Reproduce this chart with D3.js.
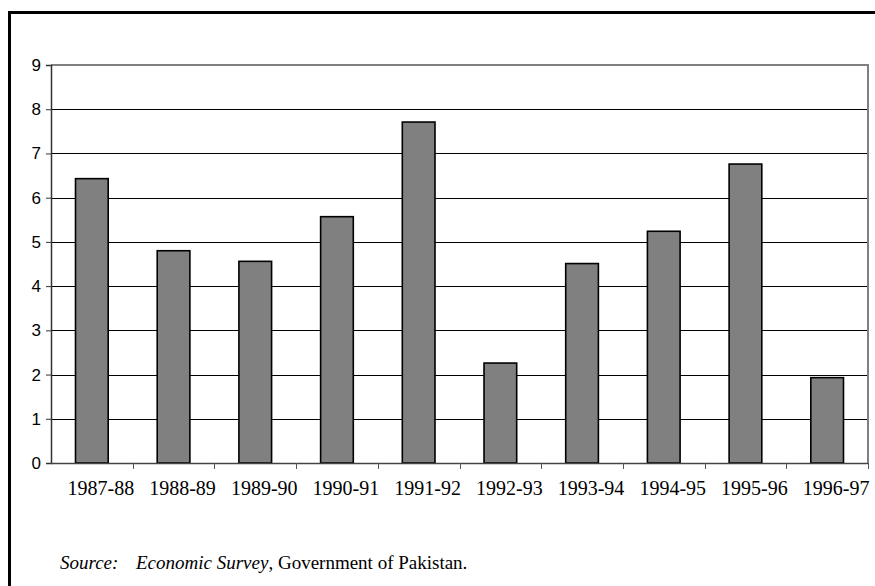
<!DOCTYPE html>
<html>
<head>
<meta charset="utf-8">
<script src="https://cdn.jsdelivr.net/npm/d3@7"></script>
<style>
  body { margin: 0; background: #fff; }
  svg { display: block; }
  .serif { font-family: "Liberation Serif", "Times New Roman", Times, serif; }
  .sans { font-family: "Liberation Sans", Arial, Helvetica, sans-serif; }
</style>
</head>
<body>
<svg id="viz"></svg>
<script>
// data
const years = ["1987-88", "1988-89", "1989-90", "1990-91", "1991-92",
               "1992-93", "1993-94", "1994-95", "1995-96", "1996-97"];
const growth = [6.43, 4.80, 4.56, 5.57, 7.71, 2.26, 4.51, 5.24, 6.76, 1.93];
const yTicks = [0, 1, 2, 3, 4, 5, 6, 7, 8, 9];

const width = 875, height = 586;
const svg = d3.select("#viz").attr("width", width).attr("height", height);

// plot area
const plotL = 51, plotR = 868, plotT = 65, plotB = 463;

const x = d3.scaleBand().domain(years).range([plotL, plotR]).paddingInner(0).paddingOuter(0);
const y = d3.scaleLinear().domain([0, 9]).range([plotB, plotT]);

// outer frame
svg.append("rect")
   .attr("x", 9.5).attr("y", 12.5)
   .attr("width", 1000).attr("height", 1000)
   .attr("fill", "none")
   .attr("stroke", "#000")
   .attr("stroke-width", 3);

// gridlines
svg.append("g")
   .selectAll("line")
   .data(yTicks.filter(d => d > 0 && d < 9))
   .join("line")
   .attr("x1", plotL).attr("x2", plotR)
   .attr("y1", d => Math.round(y(d)) + 0.5)
   .attr("y2", d => Math.round(y(d)) + 0.5)
   .attr("stroke", "#000")
   .attr("stroke-width", 1);

// plot border top / right (gray)
svg.append("path")
   .attr("d", `M${plotL},${plotT}H${plotR}V${plotB}`)
   .attr("fill", "none")
   .attr("stroke", "#808080")
   .attr("stroke-width", 2);

// bars
const bw = x.bandwidth() * 0.4;
svg.append("g")
   .selectAll("rect")
   .data(years)
   .join("rect")
   .attr("x", d => x(d) + (x.bandwidth() - bw) / 2)
   .attr("y", (d, i) => y(growth[i]))
   .attr("width", bw)
   .attr("height", (d, i) => y(0) - y(growth[i]))
   .attr("fill", "#808080")
   .attr("stroke", "#000")
   .attr("stroke-width", 1.6);

// y axis
const yAxis = svg.append("g")
   .attr("transform", `translate(${plotL},0)`)
   .call(d3.axisLeft(y).tickValues(yTicks).tickSize(5).tickFormat(d3.format("d")));
yAxis.attr("font-family", null).attr("font-size", null);
yAxis.select(".domain").attr("stroke", "#333").attr("stroke-width", 1.5);
yAxis.selectAll(".tick line").attr("stroke", "#333");
yAxis.selectAll("text")
   .attr("class", "sans")
   .style("font-size", "17px")
   .attr("fill", "#000")
   .attr("x", -10);

// x axis
const xAxis = svg.append("g")
   .attr("transform", `translate(0,${plotB})`);
xAxis.append("line")
   .attr("x1", plotL).attr("x2", plotR)
   .attr("y1", 0.5).attr("y2", 0.5)
   .attr("stroke", "#444").attr("stroke-width", 1.5);
xAxis.selectAll(".tk")
   .data(years)
   .join("line")
   .attr("class", "tk")
   .attr("x1", d => Math.round(x(d) + x.bandwidth()) + 0.5)
   .attr("x2", d => Math.round(x(d) + x.bandwidth()) + 0.5)
   .attr("y1", 0).attr("y2", 6)
   .attr("stroke", "#555");
xAxis.selectAll(".lbl")
   .data(years)
   .join("text")
   .attr("class", "lbl serif")
   .attr("x", d => x(d) + x.bandwidth() / 2 + 9)
   .attr("y", 32)
   .attr("text-anchor", "middle")
   .style("font-size", "20px")
   .text(d => d);

// source note (tab-like gap after "Source:")
const note = svg.append("g").attr("class", "serif").style("font-size", "19px");
note.append("text")
   .attr("x", 60).attr("y", 569)
   .style("font-style", "italic")
   .text("Source:");
const rest = note.append("text")
   .attr("x", 136).attr("y", 569);
rest.append("tspan").style("font-style", "italic").text("Economic Survey");
rest.append("tspan").text(", Government of Pakistan.");
</script>
</body>
</html>
